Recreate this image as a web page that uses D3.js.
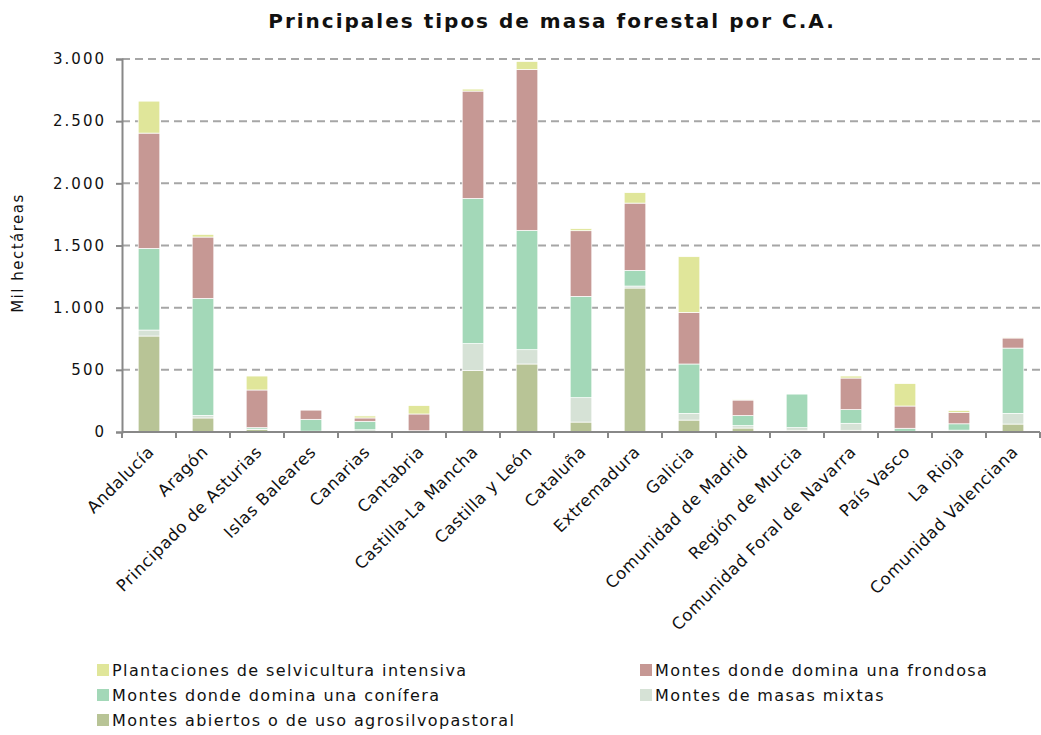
<!DOCTYPE html>
<html>
<head>
<meta charset="utf-8">
<script src="https://cdnjs.cloudflare.com/ajax/libs/d3/7.8.5/d3.min.js"></script>
<style>
  body { margin: 0; background: #fff; }
  text { font-family: "DejaVu Sans", Verdana, sans-serif; fill: #111; }
</style>
</head>
<body>
<svg width="1041" height="735"></svg>
<script>
// comunidades autonomas
const regions = ["Andalucía", "Aragón", "Principado de Asturias", "Islas Baleares", "Canarias",
  "Cantabria", "Castilla-La Mancha", "Castilla y León", "Cataluña", "Extremadura", "Galicia",
  "Comunidad de Madrid", "Región de Murcia", "Comunidad Foral de Navarra", "País Vasco",
  "La Rioja", "Comunidad Valenciana"];

// mil hectareas
const abiertos     = [772, 113, 19, 2, 3, 2, 496, 547, 80, 1158, 96, 32, 14, 14, 2, 3, 64];
const mixtas       = [48, 21, 5, 5, 15, 3, 215, 115, 196, 16, 54, 19, 21, 56, 4, 12, 86];
const conifera     = [657, 941, 11, 95, 68, 5, 1168, 960, 815, 126, 397, 81, 271, 110, 24, 51, 525];
const frondosa     = [927, 493, 303, 75, 27, 135, 863, 1294, 528, 541, 415, 125, 3, 254, 179, 91, 81];
const plantaciones = [257, 21, 112, 3, 16, 67, 16, 64, 16, 84, 448, 2, 0, 16, 180, 16, 2];

const yTicks = [0, 500, 1000, 1500, 2000, 2500, 3000];

const series = [
  {key: "abiertos", name: "Montes abiertos o de uso agrosilvopastoral", color: "#b8c496", values: abiertos},
  {key: "mixtas", name: "Montes de masas mixtas", color: "#d6e2d6", values: mixtas},
  {key: "conifera", name: "Montes donde domina una conífera", color: "#a3d8b8", values: conifera},
  {key: "frondosa", name: "Montes donde domina una frondosa", color: "#c69894", values: frondosa},
  {key: "plantaciones", name: "Plantaciones de selvicultura intensiva", color: "#e0e69a", values: plantaciones}
];

const svg = d3.select("svg");
const margin = {left: 122, right: 1, top: 59, bottom: 303};
const width = 1041, height = 735;

// table for the stack
const table = regions.map((r, i) => {
  const row = {region: r};
  series.forEach(s => row[s.key] = s.values[i]);
  return row;
});
const stacked = d3.stack().keys(series.map(s => s.key))(table);

const x = d3.scaleBand().domain(regions)
  .range([margin.left, width - margin.right]).paddingInner(0.6).paddingOuter(0.3);
const y = d3.scaleLinear().domain([0, 3000]).range([height - margin.bottom, margin.top]);

const fmt = d3.formatLocale({decimal: ",", thousands: ".", grouping: [3], currency: ["", "€"]}).format(",d");

// gridlines
svg.append("g")
  .selectAll("line")
  .data(yTicks.filter(d => d > 0))
  .join("line")
  .attr("x1", margin.left).attr("x2", width - margin.right)
  .attr("y1", d => y(d)).attr("y2", d => y(d))
  .attr("stroke", "#a6a6a6").attr("stroke-width", 2)
  .attr("stroke-dasharray", "8,5");

// bars
svg.append("g")
  .selectAll("g")
  .data(stacked)
  .join("g")
  .attr("fill", (d, i) => series[i].color)
  .selectAll("rect")
  .data(d => d)
  .join("rect")
  .attr("x", d => x(d.data.region))
  .attr("width", x.bandwidth())
  .attr("y", d => y(d[1]))
  .attr("height", d => y(d[0]) - y(d[1]))
  .attr("stroke", "#fff").attr("stroke-width", 0.7);

// y axis
const yAxis = svg.append("g")
  .attr("transform", `translate(${margin.left},0)`)
  .call(d3.axisLeft(y).tickValues(yTicks).tickFormat(fmt).tickSize(6).tickPadding(12));
yAxis.select(".domain").attr("stroke", "#888").attr("stroke-width", 2);
yAxis.selectAll(".tick line").attr("stroke", "#888").attr("stroke-width", 2);
yAxis.selectAll(".tick text").attr("font-size", 15).attr("dx", 2)
  .style("letter-spacing", "2px").style("fill", "#111");

// x axis, ticks between the bands
const bounds = d3.range(regions.length + 1).map(i => margin.left + i * (width - margin.left - margin.right) / regions.length);
const xg = svg.append("g");
xg.append("line")
  .attr("x1", margin.left).attr("x2", width - margin.right)
  .attr("y1", y(0)).attr("y2", y(0))
  .attr("stroke", "#888").attr("stroke-width", 2);
xg.selectAll(".tk")
  .data(bounds)
  .join("line")
  .attr("x1", d => d).attr("x2", d => d)
  .attr("y1", y(0)).attr("y2", y(0) + 6)
  .attr("stroke", "#888").attr("stroke-width", 2);
xg.selectAll(".lbl")
  .data(regions)
  .join("text")
  .attr("text-anchor", "end")
  .attr("font-size", 16.5)
  .style("letter-spacing", "0.6px")
  .attr("transform", d => `translate(${x(d) + x.bandwidth() / 2 + 6},${y(0) + 21}) rotate(-45)`)
  .text(d => d);

// title
svg.append("text")
  .attr("x", 552).attr("y", 28)
  .attr("text-anchor", "middle")
  .attr("font-size", 20).attr("font-weight", "bold")
  .style("letter-spacing", "2px")
  .text("Principales tipos de masa forestal por C.A.");

// y axis title
svg.append("text")
  .attr("transform", "translate(23,253) rotate(-90)")
  .attr("text-anchor", "middle")
  .attr("font-size", 15)
  .style("letter-spacing", "1.5px")
  .text("Mil hectáreas");

// legend
const legendItems = [
  {s: series[4], lx: 97, ly: 670},
  {s: series[3], lx: 640, ly: 670},
  {s: series[2], lx: 97, ly: 695},
  {s: series[1], lx: 640, ly: 695},
  {s: series[0], lx: 97, ly: 720}
];
const lg = svg.append("g").selectAll("g").data(legendItems).join("g")
  .attr("transform", d => `translate(${d.lx},${d.ly})`);
lg.append("rect").attr("x", 0).attr("y", -6).attr("width", 12).attr("height", 12)
  .attr("fill", d => d.s.color);
lg.append("text").attr("x", 15).attr("y", 6).attr("font-size", 16)
  .style("letter-spacing", "1.4px")
  .text(d => d.s.name);
</script>
</body>
</html>
